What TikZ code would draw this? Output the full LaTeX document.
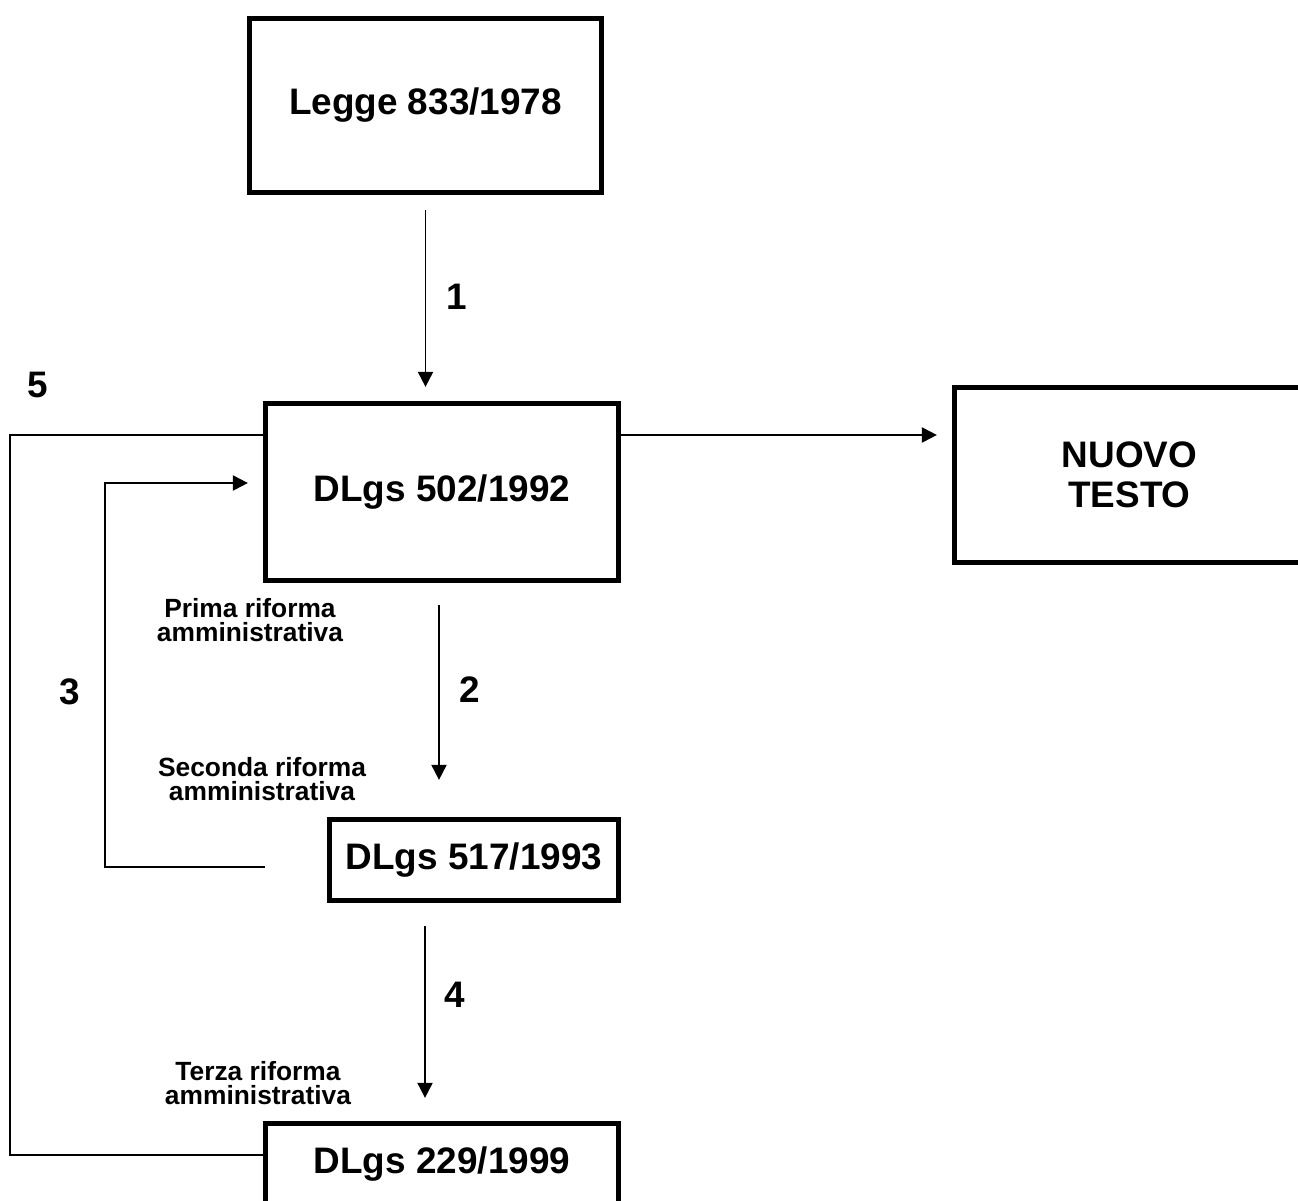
\documentclass[tikz,border=0pt]{standalone}
\usepackage{fontspec}
\setmainfont{Liberation Sans}
\usetikzlibrary{arrows.meta}

\begin{document}
	\begin{tikzpicture}[x = 0.02cm, y = -0.02cm,
		box/.style = {draw, line width = 3pt, inner sep = 0pt, align = center, font = \bfseries\fontsize{21}{22.7}\selectfont},
		conn/.style = {line width = 1.1pt},
		arr/.style = {conn, -{Triangle[length = 0.3cm, width = 0.3cm]}},
		num/.style = {font = \bfseries\fontsize{21}{22.7}\selectfont},
		note/.style = {align = center, font = \bfseries\fontsize{15}{13.6}\selectfont}]
		\useasboundingbox (0,0) rectangle (1298,1200);
		% boxes
		\node [box, minimum width = 7.04cm, minimum height = 3.48cm] (legge) at (425.5,105.5) {Legge 833/1978};
		\node [box, minimum width = 7.06cm, minimum height = 3.54cm] (d502) at (442,492) {DLgs 502/1992};
		\node [box, minimum width = 7cm, minimum height = 3.5cm] (nuovo) at (1129.5,475) {NUOVO\\TESTO};
		\node [box, minimum width = 5.78cm, minimum height = 1.62cm] (d517) at (474,860) {DLgs 517/1993};
		\node [box, minimum width = 7.06cm, minimum height = 1.62cm] (d229) at (442,1164) {DLgs 229/1999};
		% arrows down
		\draw [arr] ([yshift = -0.3cm]legge.south) -- ([yshift = 0.28cm]legge.south |- d502.north);
		\draw [arr] ([xshift = -0.06cm, yshift = -0.44cm]d502.south) -- ([xshift = -0.06cm, yshift = 0.74cm]d502.south |- d517.north);
		\draw [arr] ([xshift = -0.34cm, yshift = -0.46cm]d229.north |- d517.south) -- ([xshift = -0.34cm, yshift = 0.46cm]d229.north);
		% loops on the left
		\coordinate (s3) at (265,867);
		\coordinate (l3) at (105,867);
		\coordinate (u3) at (105,483);
		\draw [arr] (s3) -- (l3) -- (u3) -- ([xshift = -0.3cm]d502.west |- u3);
		\coordinate (a5) at (10,435);
		\coordinate (b5) at (10,1155);
		\draw [conn] (d502.west |- a5) -- (a5) -- (b5) -- (d229.west |- b5);
		\draw [arr] (d502.east |- a5) -- ([xshift = -0.3cm]nuovo.west |- a5);
		% labels
		\node [num] (n1) at (457,297) {1};
		\node [num] (n2) at (470,690) {2};
		\node [num] (n3) at (70,692) {3};
		\node [num] (n4) at (455,995) {4};
		\node [num] (n5) at (38,385) {5};
		\node [note] (prima) at (250,620) {Prima riforma\\amministrativa};
		\node [note] (seconda) at (262,779) {Seconda riforma\\amministrativa};
		\node [note] (terza) at (258,1083) {Terza riforma\\amministrativa};
	\end{tikzpicture}
\end{document}
